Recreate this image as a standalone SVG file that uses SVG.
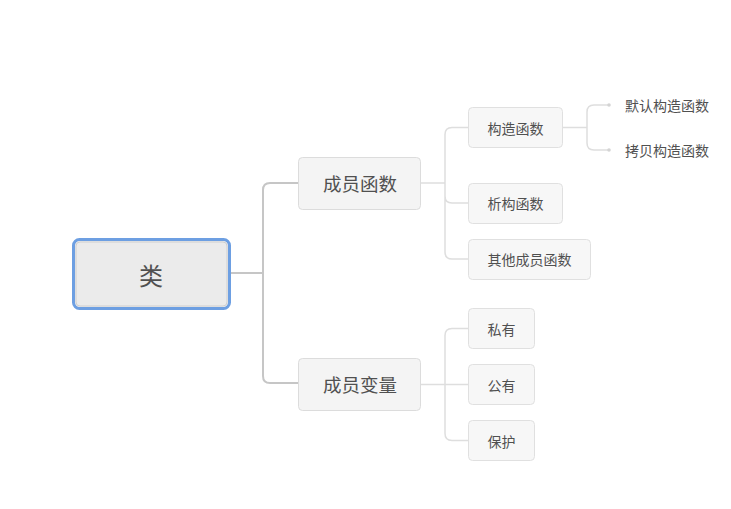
<svg xmlns="http://www.w3.org/2000/svg" width="731" height="509" viewBox="0 0 731 509">
<style>
text{font-family:"Noto Sans CJK SC","Noto Sans",sans-serif;text-anchor:middle;dominant-baseline:central;fill:#505050}
.l1{font-size:18.5px}
.l2{font-size:14px}
.l3{font-size:14px;text-anchor:start}
.b1{fill:#f4f4f4;stroke:#dcdcdc;stroke-width:1}
.b2{fill:#f7f7f7;stroke:#e0e0e0;stroke-width:1}
.c1{fill:none;stroke:#c6c6c6;stroke-width:2}
.c2{fill:none;stroke:#dedede;stroke-width:1.5}
.dot{fill:#d4d4d4}
</style>
<rect width="731" height="509" fill="#fff"/>
<g id="connectors">
<path class="c1" d="M230,273H263M298,183H270Q263,183 263,190V376Q263,383 270,383H298"/>
<path class="c2" d="M421,183H445M468,127.5H452Q445,127.5 445,134.5V252Q445,259 452,259H468M445,196Q445,203 452,203H468"/>
<path class="c2" d="M563,127.5H587M608,105H594Q587,105 587,112V143Q587,150 594,150H608"/>
<circle class="dot" cx="609" cy="105" r="1.8"/>
<circle class="dot" cx="609" cy="150" r="1.8"/>
<path class="c2" d="M421,384.5H468M468,328.5H452Q445,328.5 445,335.5V433.5Q445,440.5 452,440.5H468"/>
</g>
<g id="root">
<rect x="73.5" y="239.5" width="156" height="69" rx="6" fill="#ebebeb" stroke="#6d9fe2" stroke-width="3"/>
<rect x="76" y="242" width="151" height="64" rx="4" fill="none" stroke="#cfcfcf" stroke-width="1"/>
<text x="151" y="274" style="font-size:24px">类</text>
</g>
<g id="member-functions">
<rect class="b1" x="298.5" y="157.5" width="122" height="52" rx="4"/>
<text class="l1" x="360" y="183">成员函数</text>
</g>
<g id="member-variables">
<rect class="b1" x="298.5" y="358.5" width="122" height="52" rx="4"/>
<text class="l1" x="360" y="384">成员变量</text>
</g>
<g id="constructor">
<rect class="b2" x="468.5" y="107.5" width="94" height="40" rx="4"/>
<text class="l2" x="515.5" y="127.5">构造函数</text>
</g>
<g id="destructor">
<rect class="b2" x="468.5" y="183.5" width="94" height="40" rx="4"/>
<text class="l2" x="515.5" y="203">析构函数</text>
</g>
<g id="other-functions">
<rect class="b2" x="468.5" y="239.5" width="122" height="40" rx="4"/>
<text class="l2" x="529.5" y="259">其他成员函数</text>
</g>
<g id="default-constructor">
<text class="l3" x="625" y="105">默认构造函数</text>
</g>
<g id="copy-constructor">
<text class="l3" x="625" y="150">拷贝构造函数</text>
</g>
<g id="private">
<rect class="b2" x="468.5" y="308.5" width="66" height="40" rx="4"/>
<text class="l2" x="501.5" y="328.5">私有</text>
</g>
<g id="public">
<rect class="b2" x="468.5" y="364.5" width="66" height="40" rx="4"/>
<text class="l2" x="501.5" y="384.5">公有</text>
</g>
<g id="protected">
<rect class="b2" x="468.5" y="420.5" width="66" height="40" rx="4"/>
<text class="l2" x="501.5" y="440.5">保护</text>
</g>
</svg>
